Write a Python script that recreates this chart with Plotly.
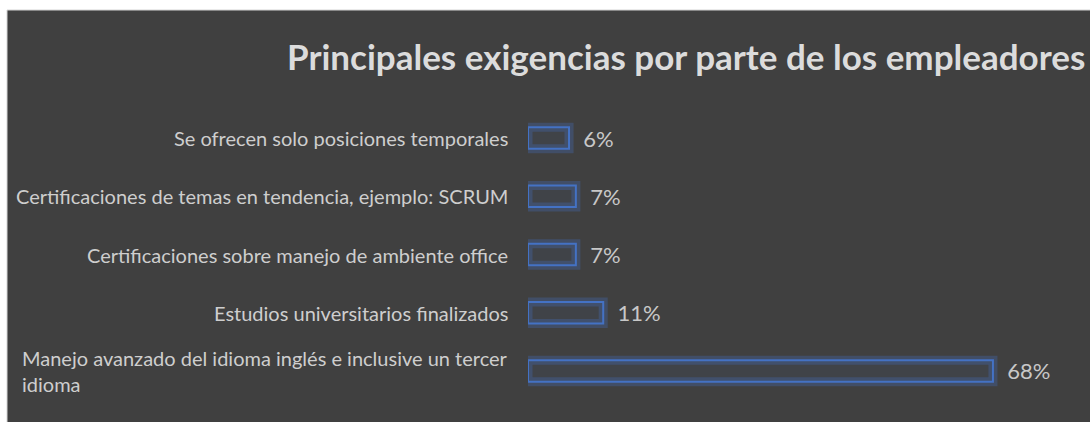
import plotly.graph_objects as go

categories = [
    "Se ofrecen solo posiciones temporales",
    "Certificaciones de temas en tendencia, ejemplo: SCRUM",
    "Certificaciones sobre manejo de ambiente office",
    "Estudios universitarios finalizados",
    "Manejo avanzado del idioma inglés e inclusive un tercer<br>idioma",
]
values = [6, 7, 7, 11, 68]
title_text = "Principales exigencias por parte de los empleadores"

W, H = 1090, 422
L, R, T, B = 528, 15, 109, 22
pw, ph = W - L - R, H - T - B

fig = go.Figure()
# glow
fig.add_trace(go.Bar(
    x=values, y=categories, orientation="h",
    marker=dict(color="rgba(0,0,0,0)", line=dict(color="rgba(68,114,196,0.30)", width=9)),
    width=0.37, hoverinfo="skip", showlegend=False,
))
fig.add_trace(go.Bar(
    x=values, y=categories, orientation="h",
    marker=dict(color="rgba(68,114,196,0.06)", line=dict(color="#4472C4", width=2)),
    width=0.37, showlegend=False,
    texttemplate="\u00a0\u00a0%{x}%", textposition="outside", constraintext="none",
    cliponaxis=False,
    textfont=dict(family="Lato", size=22, color="#c8c8c8"),
))

annotations = []
for c in categories:
    annotations.append(dict(
        x=0, xref="paper", y=c, yref="y", text=c, showarrow=False,
        xanchor="right", align="left", xshift=-18,
        font=dict(family="Lato", size=20, color="#cecece"),
    ))
annotations.append(dict(
    x=(686 - L) / pw, xref="paper", y=(H - B - 56) / ph, yref="paper",
    text="<b>" + title_text + "</b>",
    showarrow=False, xanchor="center", yanchor="middle",
    font=dict(family="Lato", size=35, color="#dcdcdc"),
))

x0 = (7 - L) / pw
x1 = (W + 5 - L) / pw
y1 = (H - B - 10) / ph
y0 = (H - B - H - 5) / ph

fig.update_layout(
    width=W, height=H,
    margin=dict(l=L, r=R, t=T, b=B, pad=0),
    paper_bgcolor="white", plot_bgcolor="rgba(0,0,0,0)",
    barmode="overlay",
    xaxis=dict(range=[0, 80], visible=False, fixedrange=True),
    yaxis=dict(autorange="reversed", showticklabels=False, showgrid=False,
               zeroline=False, showline=False, ticks=""),
    shapes=[dict(type="rect", xref="paper", yref="paper", x0=x0, x1=x1, y0=y0, y1=y1,
                 fillcolor="#404040", line=dict(color="#d4d4d4", width=1), layer="below")],
    annotations=annotations,
)

fig.write_html("out.html", config={"displayModeBar": False},
               post_script="document.body.style.margin='0';document.body.style.overflow='hidden';")
